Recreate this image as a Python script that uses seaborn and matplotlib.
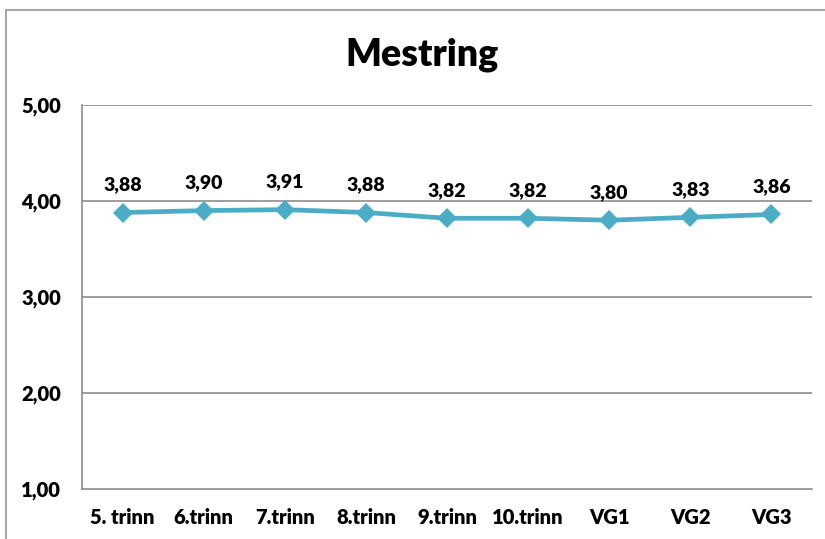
import matplotlib
matplotlib.use('Agg')
import matplotlib.pyplot as plt
import seaborn as sns
import pandas as pd
from matplotlib.patches import Rectangle

# Values
trinn = ['5. trinn', '6.trinn', '7.trinn', '8.trinn', '9.trinn', '10.trinn', 'VG1', 'VG2', 'VG3']
mestring = [3.88, 3.90, 3.91, 3.88, 3.82, 3.82, 3.80, 3.83, 3.86]
y_ticks = [1, 2, 3, 4, 5]

df = pd.DataFrame({'trinn': trinn, 'mestring': mestring})

sns.set_style('white')
plt.rcParams['font.family'] = ['Lato', 'DejaVu Sans']
plt.rcParams['text.color'] = 'black'
plt.rcParams['xtick.color'] = 'black'
plt.rcParams['ytick.color'] = 'black'

fig = plt.figure(figsize=(8.25, 5.39), dpi=100)
ax = fig.add_axes([82 / 825, 50 / 539, 730 / 825, 384 / 539])

# outer chart border
fig.patches.append(Rectangle((6 / 825, -0.01), 1.0, 1 - 10 / 539 + 0.01,
                             transform=fig.transFigure, fill=False,
                             edgecolor='#a6a6a6', linewidth=1.5))

sns.lineplot(data=df, x='trinn', y='mestring', ax=ax, color='#4BACC6',
             marker='D', markersize=10, linewidth=3.4, markeredgewidth=0, sort=False)

for i, v in enumerate(mestring):
    ax.annotate(f'{v:.2f}'.replace('.', ','), (i, v), xytext=(0, 14),
                textcoords='offset points', ha='center', va='bottom',
                fontsize=14, fontweight='heavy', color='black')

ax.set_xlim(-0.5, len(trinn) - 0.5)
ax.set_ylim(1, 5)
ax.set_yticks(y_ticks)
ax.set_yticklabels([f'{t:.2f}'.replace('.', ',') for t in y_ticks])
for t in y_ticks[1:]:
    ax.axhline(t, color='#8c8c8c', linewidth=1.2, zorder=0)

for lab in ax.get_xticklabels() + ax.get_yticklabels():
    lab.set_fontweight('heavy')
    lab.set_fontsize(14.5)
ax.tick_params(axis='both', length=0)
ax.tick_params(axis='y', pad=15)
ax.tick_params(axis='x', pad=14)

for s in ['top', 'right']:
    ax.spines[s].set_visible(False)
for s in ['left', 'bottom']:
    ax.spines[s].set_color('#8c8c8c')
    ax.spines[s].set_linewidth(1.2)

ax.set_xlabel('')
ax.set_ylabel('')
fig.text(422 / 825, 1 - 55 / 539, 'Mestring', ha='center', va='center',
         fontsize=27, fontweight='heavy', color='black')

fig.savefig('out.png', dpi=100)
